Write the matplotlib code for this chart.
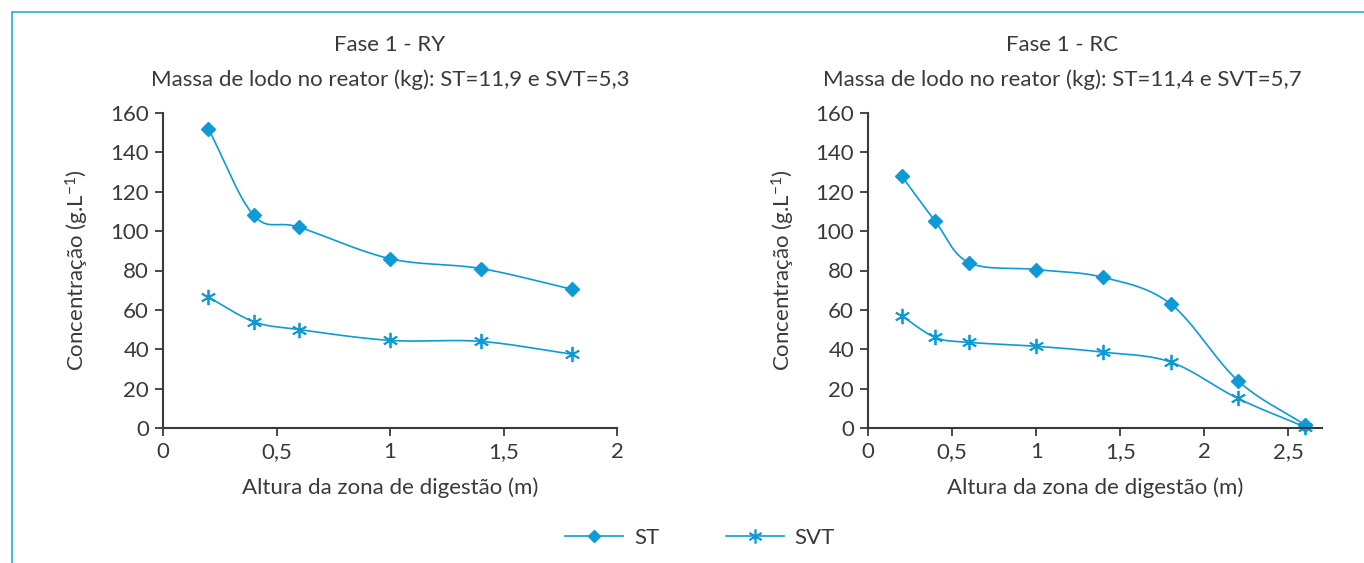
import numpy as np
import matplotlib
matplotlib.use("Agg")
import matplotlib.pyplot as plt
from matplotlib.lines import Line2D
from matplotlib.patches import Rectangle

plt.rcParams["font.family"] = ["Lato", "DejaVu Sans"]
plt.rcParams["mathtext.default"] = "regular"

# Fase 1 - RY
x_ry = [0.2, 0.4, 0.6, 1.0, 1.4, 1.8]
st_ry = [152, 108, 102, 86, 81, 70.5]
svt_ry = [66.5, 54, 50, 44.5, 44, 37.5]

# Fase 1 - RC
x_rc = [0.2, 0.4, 0.6, 1.0, 1.4, 1.8, 2.2, 2.6]
st_rc = [128, 105, 84, 80.5, 76.5, 63, 24, 1.5]
svt_rc = [57, 46, 43.5, 41.5, 38.5, 33.5, 15, 0.5]

titles = ["Fase 1 - RY", "Fase 1 - RC"]
subtitles = ["Massa de lodo no reator (kg): ST=11,9 e SVT=5,3",
             "Massa de lodo no reator (kg): ST=11,4 e SVT=5,7"]

BLUE = "#0e9bd5"
TXT = "#3a3a3a"


def smooth(x, y, n=30):
    # Catmull-Rom style smoothing (like a spreadsheet "smoothed line")
    x = np.asarray(x, float)
    y = np.asarray(y, float)
    px = np.concatenate([[2 * x[0] - x[1]], x, [2 * x[-1] - x[-2]]])
    py = np.concatenate([[2 * y[0] - y[1]], y, [2 * y[-1] - y[-2]]])
    xs, ys = [], []
    t = np.linspace(0, 1, n)
    for i in range(1, len(px) - 2):
        for p, out in ((px, xs), (py, ys)):
            p0, p1, p2, p3 = p[i - 1], p[i], p[i + 1], p[i + 2]
            m1 = (p2 - p0) / 2
            m2 = (p3 - p1) / 2
            h00 = 2 * t**3 - 3 * t**2 + 1
            h10 = t**3 - 2 * t**2 + t
            h01 = -2 * t**3 + 3 * t**2
            h11 = t**3 - t**2
            out.extend(h00 * p1 + h10 * m1 + h01 * p2 + h11 * m2)
    return np.array(xs), np.array(ys)


fig = plt.figure(figsize=(13.64, 5.63), dpi=100)
W, H = 1364, 563

fig.patches.append(Rectangle((12 / W, -0.1), 1.2, (1 - 12 / H) + 0.1,
                             transform=fig.transFigure, fill=False,
                             edgecolor="#29a8df", lw=1.2))

panels = [
    (x_ry, st_ry, svt_ry, (163, 617), (0, 2), [0, 0.5, 1, 1.5, 2],
     ["0", "0,5", "1", "1,5", "2"], 390, 77),
    (x_rc, st_rc, svt_rc, (868, 1322), (0, 2.7), [0, 0.5, 1, 1.5, 2, 2.5],
     ["0", "0,5", "1", "1,5", "2", "2,5"], 1062, 783),
]

for i, (x, st, svt, (x0, x1), xlim, xt, xtl, cx, ylx) in enumerate(panels):
    ax = fig.add_axes([x0 / W, 1 - 428 / H, (x1 - x0) / W, (428 - 113) / H])
    sx, sy = smooth(x, st)
    ax.plot(sx, sy, color=BLUE, lw=1.2)
    ax.plot(x, st, ls="none", marker="D", ms=7, color=BLUE, clip_on=False)
    sx, sy = smooth(x, svt)
    ax.plot(sx, sy, color=BLUE, lw=1.2)
    ax.plot(x, svt, ls="none", marker=(6, 2, 0), ms=11, mew=1.3, color=BLUE,
            clip_on=False)
    ax.set_xlim(*xlim)
    ax.set_ylim(0, 160)
    ax.set_xticks(xt)
    ax.set_xticklabels(xtl)
    ax.set_yticks(range(0, 161, 20))
    for s in ("top", "right"):
        ax.spines[s].set_visible(False)
    for s in ("left", "bottom"):
        ax.spines[s].set_color(TXT)
        ax.spines[s].set_linewidth(1.5)
    ax.tick_params(colors=TXT, labelcolor=TXT, labelsize=16, length=6, width=1.3,
                   pad=4)
    ax.set_xlabel("Altura da zona de digestão (m)", fontsize=16, color=TXT,
                  labelpad=11)
    fig.text(ylx / W, 1 - 270 / H, "Concentração (g.L$^{\\mathregular{-1}}$)",
             rotation=90, fontsize=16, color=TXT, ha="center", va="center")
    fig.text(cx / W, 1 - 45 / H, titles[i], fontsize=16, color=TXT,
             ha="center", va="center")
    fig.text(cx / W, 1 - 80 / H, subtitles[i], fontsize=16, color=TXT,
             ha="center", va="center")

handles = [
    Line2D([], [], color=BLUE, lw=1.2, marker="D", ms=6),
    Line2D([], [], color=BLUE, lw=1.2, marker=(6, 2, 0), ms=10, mew=1.2),
]
fig.legend(handles, ["ST", "SVT"], loc="center", bbox_to_anchor=(700 / W, 1 - 538 / H),
           ncol=2, frameon=False, fontsize=16, handlelength=2.6, handletextpad=0.5,
           columnspacing=3.0, labelcolor=TXT)

fig.savefig("out.png", dpi=100)
